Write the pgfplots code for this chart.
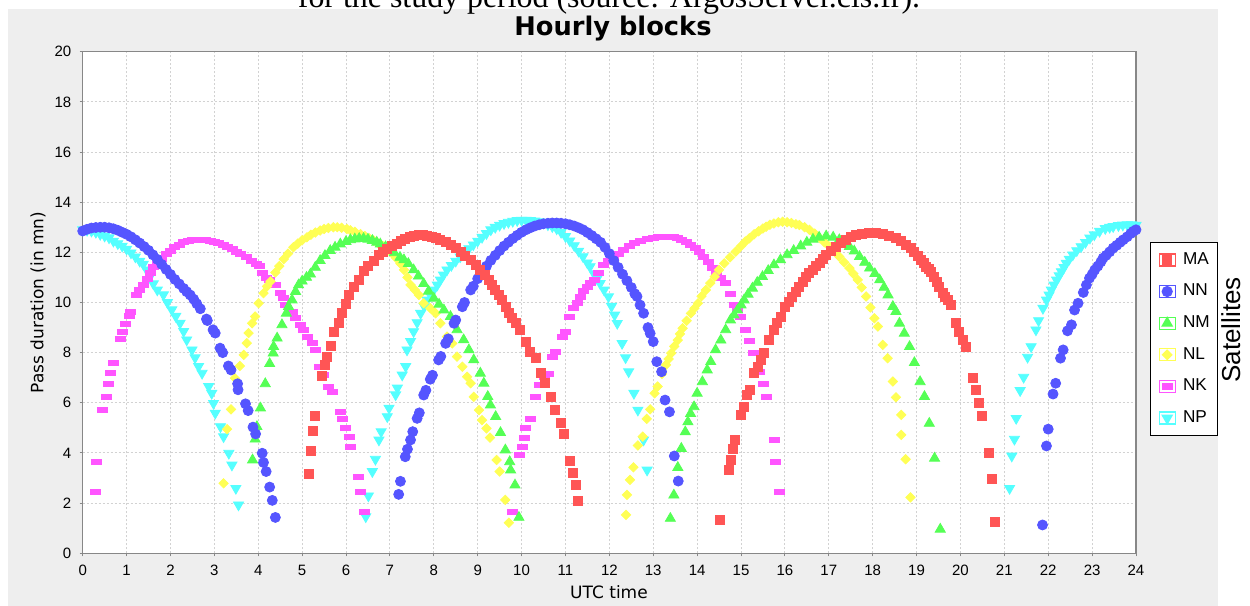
\documentclass[border=0pt]{standalone}
\usepackage{fontspec}
\setmainfont{DejaVu Sans}
\newfontfamily\libsans{Liberation Sans}
\newfontfamily\libserif{Liberation Serif}
\usepackage{pgfplots}
\pgfplotsset{compat=1.18}
\definecolor{cMA}{RGB}{255,85,85}
\definecolor{cNN}{RGB}{85,85,255}
\definecolor{cNM}{RGB}{85,255,85}
\definecolor{cNL}{RGB}{255,255,85}
\definecolor{cNK}{RGB}{255,85,255}
\definecolor{cNP}{RGB}{85,255,255}
\definecolor{panel}{RGB}{238,238,238}
\definecolor{gridc}{RGB}{210,210,210}
\definecolor{axc}{RGB}{135,135,135}
\pgfplotsset{
  sat/.style={only marks, color=#1,
    legend image code/.code={\path (-4pt,-3pt) rectangle (4pt,3pt); \draw[mark repeat=1,##1] plot coordinates {(0pt,0pt)};}},
}
\begin{document}
\begin{tikzpicture}
\useasboundingbox (0,0) rectangle (625pt,303pt);
\fill[panel] (4pt,0pt) rectangle (609pt,298.5pt);
\begin{scope}
\clip (0,0) rectangle (625pt,303pt);
\node[anchor=base, inner sep=0pt, font=\libserif\fontsize{15.95}{18}\selectfont] at (304.5pt,299.35pt) {for the study period (source: ArgosServer.cls.fr).};
\end{scope}
\begin{axis}[
  at={(41.35pt,26.35pt)}, anchor=south west,
  scale only axis, width=526.65pt, height=250.8pt,
  xmin=0, xmax=24, ymin=0, ymax=20,
  xtick={0,1,...,24}, ytick={0,2,...,20},
  axis background/.style={fill=white},
  grid=major,
  major grid style={dash pattern=on 1pt off 1pt, draw=gridc, line width=0.5pt},
  axis line style={draw=axc, line width=0.6pt},
  tick align=outside, major tick length=1.5pt,
  tick style={draw=axc, line width=0.5pt},
  tick pos=left,
  /pgf/number format/assume math mode=true,
  ticklabel style={font=\libsans\fontsize{7.5}{9}\selectfont, inner sep=0pt},
  xticklabel style={anchor=north, yshift=-4.35pt},
  yticklabel style={anchor=east, xshift=-4pt},
  reverse legend,
  legend style={at={(1.01329,0.62121)}, anchor=north west, draw=black, line width=0.6pt, fill=white,
    inner xsep=4pt, inner ysep=5.1pt, row sep=8.4pt, column sep=3.6pt,
    font=\libsans\fontsize{8.6}{10}\selectfont, nodes={inner sep=0pt}},
  legend cell align=left,
]
% NP (cyan, down triangles)
\addplot[sat=cNP, mark=triangle*, mark size=2.9pt, mark options={draw=none, fill=cNP, rotate=180}] coordinates {
(0,12.9)(0.1,12.88)(0.2,12.85)(0.3,12.8)(0.4,12.72)(0.5,12.65)(0.6,12.58)(0.7,12.45)(0.8,12.35)(0.9,12.25)(1.0,12.13)(1.1,11.98)(1.2,11.82)(1.3,11.65)(1.38,11.53)(1.46,11.3)(1.54,11.05)(1.61,10.75)(1.7,10.5)(1.84,10.31)(1.93,10.0)(2.03,9.71)(2.12,9.45)(2.22,9.18)(2.3,8.85)(2.37,8.51)(2.49,8.11)(2.56,7.8)(2.64,7.45)(2.72,7.18)(2.87,6.65)(2.94,6.38)(2.98,5.98)(3.02,5.59)(3.14,5.05)(3.21,4.65)(3.33,3.99)(3.4,3.52)(3.49,2.59)(3.55,1.93)
(6.45,1.46)(6.51,2.29)(6.6,3.26)(6.67,3.75)(6.75,4.52)(6.8,4.85)(6.94,5.45)(6.98,5.79)(7.13,6.32)(7.17,6.59)(7.28,7.11)(7.36,7.45)(7.39,8.11)(7.47,8.45)(7.54,8.84)(7.62,9.2)(7.7,9.57)(7.78,9.85)(7.85,10.1)(7.92,10.3)(8.0,10.5)(8.08,10.7)(8.15,10.9)(8.22,11.1)(8.3,11.3)(8.4,11.48)(8.5,11.65)(8.6,11.82)(8.7,12.0)(8.8,12.15)(8.9,12.3)(9.0,12.45)(9.1,12.6)(9.2,12.75)(9.3,12.9)(9.4,13.0)(9.5,13.08)(9.6,13.15)(9.7,13.2)(9.8,13.24)(9.9,13.27)(10.0,13.28)(10.1,13.28)(10.2,13.27)(10.3,13.25)(10.4,13.22)(10.5,13.17)(10.6,13.1)(10.7,13.03)(10.8,12.94)(10.9,12.8)(11.0,12.63)(11.1,12.46)(11.2,12.27)(11.3,12.05)(11.4,11.83)(11.5,11.58)(11.56,11.43)(11.65,11.15)(11.72,10.95)(11.79,10.76)(11.88,10.5)(11.98,10.23)(12.05,9.85)(12.12,9.5)(12.18,9.17)(12.29,8.37)(12.37,7.8)(12.44,7.24)(12.56,6.38)(12.65,5.71)(12.78,4.52)(12.86,3.32)
(21.12,2.59)(21.17,3.88)(21.23,4.55)(21.27,5.38)(21.36,6.49)(21.44,7.02)(21.53,7.82)(21.61,8.24)(21.72,8.91)(21.78,9.28)(21.88,9.77)(21.96,10.1)(22.02,10.3)(22.07,10.5)(22.13,10.7)(22.19,10.9)(22.25,11.07)(22.3,11.23)(22.36,11.4)(22.41,11.57)(22.48,11.73)(22.56,11.9)(22.65,12.07)(22.75,12.23)(22.85,12.4)(22.95,12.57)(23.05,12.7)(23.17,12.84)(23.3,12.95)(23.4,13.0)(23.48,13.03)(23.6,13.07)(23.7,13.09)(23.8,13.1)(23.9,13.1)(24.0,13.08)
};
\addlegendentry{NP}
% NK (magenta, flat rectangles)
\addplot[sat=cNK, mark=square*, mark size=2.5pt, mark options={draw=none, fill=cNK, yscale=0.5}] coordinates {
(0.28,2.45)(0.32,3.66)(0.45,5.72)(0.53,6.25)(0.58,6.74)(0.64,7.21)(0.7,7.58)(0.86,8.54)(0.91,8.84)(0.97,9.15)(1.06,9.47)(1.08,9.64)(1.23,10.31)(1.3,10.5)(1.38,10.7)(1.47,10.93)(1.55,11.2)(1.62,11.4)(1.7,11.53)(1.8,11.75)(1.9,11.92)(2.0,12.07)(2.1,12.2)(2.2,12.3)(2.3,12.4)(2.4,12.45)(2.5,12.48)(2.6,12.5)(2.7,12.5)(2.8,12.5)(2.9,12.47)(3.0,12.42)(3.1,12.37)(3.2,12.3)(3.3,12.22)(3.42,12.13)(3.5,12.03)(3.6,11.93)(3.73,11.8)(3.85,11.65)(3.95,11.55)(4.03,11.47)(4.1,11.2)(4.18,11.0)(4.25,10.9)(4.39,10.7)(4.5,10.4)(4.58,10.17)(4.62,9.9)(4.77,9.64)(4.85,9.4)(4.95,9.1)(5.04,8.91)(5.11,8.64)(5.23,8.38)(5.3,8.11)(5.4,7.45)(5.48,7.11)(5.6,6.65)(5.7,6.45)(5.87,5.65)(5.91,5.35)(5.99,4.99)(6.07,4.65)(6.1,4.26)(6.29,3.06)(6.33,2.45)(6.41,1.66)
(9.79,1.66)(9.94,3.92)(10.01,4.25)(10.07,4.61)(10.09,4.98)(10.19,5.34)(10.32,6.24)(10.4,6.71)(10.51,7.04)(10.62,7.17)(10.7,7.84)(10.77,8.04)(10.92,8.64)(11.0,8.84)(11.08,9.44)(11.19,9.77)(11.27,10.0)(11.34,10.24)(11.42,10.45)(11.49,10.64)(11.57,10.77)(11.65,10.9)(11.76,11.2)(11.87,11.5)(11.98,11.65)(12.1,11.77)(12.2,11.93)(12.33,12.1)(12.45,12.24)(12.56,12.36)(12.7,12.45)(12.86,12.52)(13.0,12.58)(13.12,12.62)(13.24,12.63)(13.35,12.62)(13.45,12.6)(13.54,12.57)(13.65,12.5)(13.75,12.4)(13.85,12.3)(13.95,12.17)(14.05,12.0)(14.15,11.83)(14.25,11.6)(14.34,11.37)(14.45,11.15)(14.53,10.97)(14.65,10.77)(14.75,10.35)(14.84,9.9)(14.92,9.7)(14.99,9.44)(15.1,8.91)(15.2,8.45)(15.29,7.98)(15.41,7.24)(15.52,6.75)(15.58,6.24)(15.75,4.52)(15.79,3.66)(15.87,2.46)
};
\addlegendentry{NK}
% NL (yellow diamonds)
\addplot[sat=cNL, mark=square*, mark size=1.65pt, mark options={draw=none, fill=cNL, rotate=45}] coordinates {
(3.21,2.79)(3.29,4.95)(3.38,5.74)(3.47,6.98)(3.58,7.47)(3.67,7.91)(3.74,8.38)(3.78,8.78)(3.86,9.17)(3.93,9.44)(4.01,9.97)(4.12,10.37)(4.2,10.64)(4.28,10.84)(4.39,11.2)(4.48,11.45)(4.58,11.73)(4.68,11.95)(4.8,12.2)(4.9,12.35)(5.0,12.48)(5.11,12.6)(5.2,12.7)(5.3,12.79)(5.41,12.87)(5.5,12.93)(5.6,12.97)(5.71,13.0)(5.8,13.0)(5.9,12.98)(6.02,12.93)(6.1,12.88)(6.2,12.82)(6.33,12.73)(6.43,12.65)(6.53,12.56)(6.63,12.47)(6.73,12.36)(6.84,12.25)(6.94,12.13)(7.04,11.97)(7.14,11.78)(7.24,11.55)(7.32,11.3)(7.4,11.0)(7.47,10.7)(7.57,10.5)(7.66,10.3)(7.77,9.97)(7.92,9.77)(8.04,9.57)(8.15,9.17)(8.3,8.64)(8.42,8.37)(8.53,7.84)(8.65,7.44)(8.76,7.04)(8.84,6.78)(8.91,6.24)(9.03,5.71)(9.1,5.31)(9.2,4.98)(9.28,4.61)(9.43,3.72)(9.5,3.26)(9.63,2.13)(9.71,1.22)
(12.38,1.53)(12.4,2.33)(12.47,2.93)(12.55,3.43)(12.65,4.3)(12.76,4.65)(12.85,5.36)(12.93,5.74)(13.03,6.38)(13.1,6.65)(13.2,7.15)(13.29,7.51)(13.35,7.75)(13.41,7.98)(13.48,8.25)(13.56,8.5)(13.61,8.75)(13.67,8.97)(13.76,9.27)(13.86,9.57)(13.94,9.77)(14.02,9.97)(14.1,10.25)(14.2,10.5)(14.3,10.77)(14.4,11.03)(14.5,11.3)(14.62,11.56)(14.75,11.8)(14.88,12.03)(15.0,12.25)(15.1,12.43)(15.19,12.56)(15.3,12.72)(15.4,12.84)(15.5,12.95)(15.57,13.02)(15.66,13.1)(15.75,13.15)(15.85,13.2)(15.95,13.22)(16.05,13.2)(16.15,13.17)(16.25,13.12)(16.33,13.09)(16.45,13.0)(16.56,12.9)(16.68,12.75)(16.79,12.57)(16.9,12.4)(17.02,12.23)(17.13,12.03)(17.24,11.83)(17.35,11.6)(17.47,11.37)(17.56,11.15)(17.66,10.9)(17.75,10.6)(17.85,10.24)(17.95,9.8)(18.04,9.37)(18.12,9.04)(18.23,8.31)(18.34,7.78)(18.46,6.85)(18.53,6.22)(18.65,5.52)(18.65,4.72)(18.75,3.75)(18.86,2.23)
};
\addlegendentry{NL}
% NM (green triangles)
\addplot[sat=cNM, mark=triangle*, mark size=2.9pt, mark options={draw=none, fill=cNM}] coordinates {
(3.87,3.72)(3.93,4.55)(3.97,5.05)(4.05,5.79)(4.16,6.76)(4.26,7.56)(4.34,7.98)(4.35,8.24)(4.43,8.58)(4.54,9.11)(4.64,9.57)(4.69,9.84)(4.77,10.1)(4.85,10.44)(4.92,10.7)(5.0,10.85)(5.1,11.0)(5.19,11.13)(5.3,11.4)(5.41,11.67)(5.52,11.87)(5.64,12.07)(5.75,12.2)(5.87,12.33)(6.0,12.43)(6.1,12.5)(6.2,12.53)(6.3,12.55)(6.4,12.55)(6.5,12.52)(6.6,12.47)(6.7,12.4)(6.78,12.33)(6.9,12.22)(7.0,12.13)(7.1,11.98)(7.23,11.8)(7.32,11.7)(7.42,11.55)(7.54,11.3)(7.65,11.05)(7.77,10.75)(7.88,10.45)(8.0,10.17)(8.12,9.93)(8.23,9.7)(8.38,9.44)(8.53,8.91)(8.68,8.51)(8.8,8.11)(8.91,7.71)(9.06,7.18)(9.14,6.78)(9.23,6.25)(9.29,5.91)(9.41,5.45)(9.52,4.81)(9.63,4.12)(9.73,3.65)(9.75,3.32)(9.85,2.72)(9.94,1.43)
(13.39,1.39)(13.47,2.32)(13.56,3.42)(13.64,4.18)(13.73,4.84)(13.79,5.24)(13.85,5.57)(13.93,5.84)(14.0,6.38)(14.12,6.84)(14.23,7.31)(14.31,7.64)(14.42,8.11)(14.54,8.5)(14.65,8.91)(14.76,9.3)(14.84,9.5)(14.92,9.7)(15.0,9.9)(15.07,10.1)(15.16,10.33)(15.26,10.57)(15.37,10.8)(15.49,11.03)(15.62,11.27)(15.75,11.5)(15.9,11.7)(16.05,11.9)(16.2,12.07)(16.36,12.25)(16.5,12.4)(16.64,12.52)(16.78,12.6)(16.94,12.65)(17.1,12.6)(17.24,12.5)(17.36,12.37)(17.47,12.23)(17.58,12.05)(17.7,11.83)(17.82,11.6)(17.93,11.37)(18.05,11.15)(18.16,10.9)(18.26,10.6)(18.35,10.3)(18.46,9.84)(18.53,9.64)(18.61,9.17)(18.72,8.77)(18.84,8.24)(18.95,7.6)(19.08,6.84)(19.18,6.25)(19.29,5.18)(19.41,3.79)(19.54,0.96)
};
\addlegendentry{NM}
% NN (blue circles)
\addplot[sat=cNN, mark=*, mark size=2.5pt, mark options={draw=none, fill=cNN}] coordinates {
(0,12.85)(0.1,12.92)(0.2,12.97)(0.3,12.99)(0.4,13.0)(0.5,13.0)(0.6,12.98)(0.7,12.94)(0.8,12.88)(0.9,12.8)(1.0,12.72)(1.1,12.62)(1.2,12.5)(1.3,12.37)(1.4,12.23)(1.5,12.08)(1.6,11.9)(1.7,11.72)(1.8,11.52)(1.9,11.32)(2.0,11.12)(2.1,10.92)(2.2,10.74)(2.3,10.56)(2.37,10.43)(2.45,10.3)(2.53,10.13)(2.6,9.95)(2.68,9.75)(2.82,9.34)(2.84,9.28)(2.97,8.91)(3.02,8.78)(3.13,8.18)(3.19,8.0)(3.32,7.47)(3.38,7.31)(3.53,6.76)(3.54,6.52)(3.71,5.96)(3.77,5.69)(3.88,5.03)(3.94,4.76)(4.09,3.99)(4.12,3.62)(4.18,3.26)(4.26,2.64)(4.32,2.11)(4.39,1.43)
(7.2,2.35)(7.24,2.87)(7.35,3.85)(7.4,4.15)(7.47,4.52)(7.52,4.85)(7.62,5.38)(7.67,5.6)(7.77,6.31)(7.82,6.5)(7.92,6.94)(7.97,7.1)(8.11,7.71)(8.16,7.85)(8.27,8.37)(8.33,8.55)(8.46,9.17)(8.5,9.3)(8.65,9.83)(8.7,10.0)(8.84,10.5)(8.9,10.65)(9.0,10.95)(9.1,11.2)(9.2,11.45)(9.3,11.68)(9.4,11.88)(9.5,12.07)(9.6,12.25)(9.7,12.4)(9.8,12.55)(9.9,12.68)(10.0,12.8)(10.1,12.9)(10.2,12.98)(10.3,13.05)(10.4,13.1)(10.5,13.14)(10.6,13.16)(10.7,13.17)(10.8,13.17)(10.9,13.16)(11.0,13.14)(11.1,13.1)(11.2,13.05)(11.3,12.98)(11.4,12.9)(11.5,12.79)(11.6,12.67)(11.7,12.54)(11.8,12.4)(11.9,12.2)(12.0,11.95)(12.1,11.67)(12.2,11.4)(12.3,11.13)(12.4,10.87)(12.5,10.6)(12.58,10.35)(12.63,10.24)(12.7,9.9)(12.78,9.57)(12.88,9.0)(12.93,8.77)(13.0,8.44)(13.08,7.64)(13.19,7.24)(13.27,6.11)(13.37,5.64)(13.48,3.88)(13.57,2.88)
(21.87,1.13)(21.96,4.28)(22.0,4.95)(22.11,6.35)(22.17,6.78)(22.28,7.78)(22.34,8.11)(22.44,8.87)(22.53,9.11)(22.6,9.7)(22.68,9.97)(22.8,10.4)(22.87,10.7)(22.94,10.97)(23.0,11.12)(23.06,11.3)(23.13,11.45)(23.2,11.62)(23.25,11.77)(23.32,11.88)(23.4,12.02)(23.48,12.17)(23.56,12.28)(23.64,12.4)(23.71,12.5)(23.8,12.62)(23.88,12.75)(23.94,12.84)(24.0,12.9)
};
\addlegendentry{NN}
% MA (red squares)
\addplot[sat=cMA, mark=square*, mark size=2.25pt, mark options={draw=none, fill=cMA}] coordinates {
(5.15,3.15)(5.19,4.1)(5.25,4.89)(5.29,5.48)(5.46,7.08)(5.53,7.52)(5.57,7.85)(5.65,8.25)(5.72,8.84)(5.84,9.18)(5.91,9.57)(6.0,9.95)(6.07,10.31)(6.18,10.64)(6.29,10.9)(6.4,11.27)(6.5,11.45)(6.63,11.67)(6.75,11.88)(6.85,12.02)(6.94,12.13)(7.05,12.25)(7.15,12.33)(7.24,12.45)(7.35,12.55)(7.45,12.62)(7.55,12.66)(7.65,12.68)(7.75,12.68)(7.85,12.66)(7.95,12.62)(8.05,12.56)(8.15,12.5)(8.27,12.4)(8.38,12.3)(8.5,12.17)(8.61,12.03)(8.72,11.87)(8.84,11.7)(8.95,11.5)(9.06,11.3)(9.16,11.1)(9.25,10.9)(9.33,10.7)(9.4,10.5)(9.48,10.3)(9.56,10.1)(9.64,9.83)(9.71,9.57)(9.79,9.37)(9.86,9.17)(9.97,8.91)(10.09,8.44)(10.2,8.04)(10.32,7.78)(10.43,7.18)(10.54,6.78)(10.66,6.25)(10.77,5.71)(10.89,5.18)(10.96,4.78)(11.11,3.68)(11.17,3.19)(11.23,2.73)(11.29,2.1)
(14.53,1.33)(14.72,3.32)(14.76,3.72)(14.82,4.18)(14.87,4.52)(15.0,5.51)(15.06,5.84)(15.14,6.31)(15.21,6.51)(15.3,7.18)(15.38,7.44)(15.45,7.7)(15.52,7.98)(15.63,8.5)(15.75,8.91)(15.82,9.17)(15.9,9.44)(16.01,9.84)(16.09,10.04)(16.17,10.24)(16.25,10.44)(16.32,10.63)(16.4,10.83)(16.47,11.03)(16.55,11.17)(16.63,11.3)(16.71,11.44)(16.79,11.57)(16.86,11.73)(16.94,11.9)(17.05,12.07)(17.17,12.23)(17.28,12.37)(17.4,12.5)(17.5,12.6)(17.62,12.68)(17.75,12.73)(17.92,12.76)(18.08,12.76)(18.23,12.74)(18.38,12.67)(18.53,12.57)(18.65,12.45)(18.76,12.3)(18.86,12.17)(18.95,12.03)(19.03,11.87)(19.1,11.7)(19.16,11.57)(19.21,11.43)(19.27,11.33)(19.33,11.23)(19.4,11.03)(19.46,10.83)(19.52,10.63)(19.59,10.37)(19.65,10.23)(19.71,10.1)(19.78,9.9)(19.89,9.17)(19.97,8.84)(20.05,8.51)(20.12,8.24)(20.29,6.98)(20.35,6.51)(20.43,6.01)(20.5,5.48)(20.64,3.99)(20.71,2.95)(20.78,1.26)
};
\addlegendentry{MA}
\end{axis}
\node[anchor=base, inner sep=0pt, font=\bfseries\fontsize{12.85}{15}\selectfont] at (306.5pt,285pt) {Hourly blocks};
\node[anchor=base, inner sep=0pt, font=\fontsize{8.5}{10}\selectfont] at (304.5pt,3.85pt) {UTC time};
\node[anchor=base, rotate=90, inner sep=0pt, font=\fontsize{8.5}{10}\selectfont] at (21.65pt,151.8pt) {Pass duration (in mn)};
\node[anchor=base, rotate=90, inner sep=0pt, font=\libsans\fontsize{13}{15}\selectfont] at (620pt,138pt) {Satellites};
\end{tikzpicture}
\end{document}
